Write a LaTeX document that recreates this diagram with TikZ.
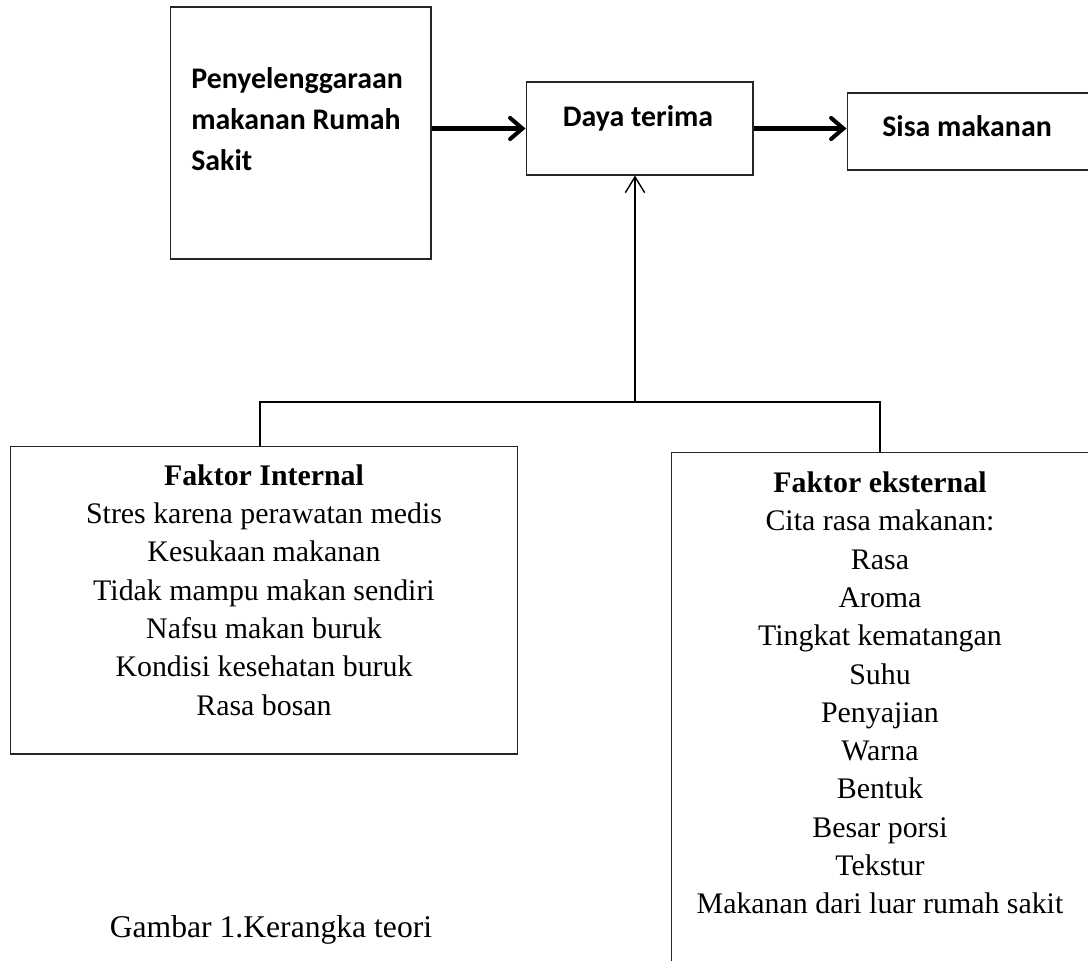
\documentclass[tikz,border=0pt]{standalone}
\usepackage{fontspec}
\setmainfont{Liberation Serif}
\newfontfamily\calibrifont{Carlito}
\usepackage{tikz}
\usetikzlibrary{arrows.meta, positioning, calc}

\begin{document}
\begin{tikzpicture}[x=0.02cm, y=-0.02cm,
  box/.style={draw=black!85, line width=0.6pt, rectangle, inner sep=0pt},
  headtext/.style={font=\calibrifont\bfseries\fontsize{17}{23.2}\selectfont, inner sep=0pt},
  listtext/.style={font=\fontsize{17}{21.8}\selectfont, align=center, inner sep=0pt},
  fatarrow/.style={line width=2.3pt, -{Straight Barb[length=7pt, width=12pt, line cap=round]}},
  thinarrow/.style={line width=0.8pt, -{Straight Barb[length=9pt, width=11pt]}},
  link/.style={line width=0.8pt}]

\useasboundingbox (0,0) rectangle (1088,960);
\clip (0,0) rectangle (1088,960);

% ===== top row =====
\node[box, minimum width=5.22cm, minimum height=5.04cm] (rs) at (300.5,133) {};
\node[headtext, anchor=west, align=left] (rstext) at (191,119)
  {Penyelenggaraan\\makanan Rumah\\Sakit};

\node[box, minimum width=4.54cm, minimum height=1.86cm] (daya) at (639.5,128.5) {};
\node[headtext] (dayatext) at (638,118) {Daya terima};

\node[box, minimum width=4.86cm, minimum height=1.54cm] (sisa) at (968.5,131.5) {};
\node[headtext] (sisatext) at (967,126) {Sisa makanan};

\draw[fatarrow] (rs.east |- daya.west) -- (daya.west);
\draw[fatarrow] (daya.east) -- (sisa.west |- daya.east);

% ===== faktor boxes =====
\node[box, minimum width=10.16cm, minimum height=6.16cm] (intern) at (264,600) {};
\node[listtext] (interntext) at (264,590) {%
\textbf{Faktor Internal}\\
Stres karena perawatan medis\\
Kesukaan makanan\\
Tidak mampu makan sendiri\\
Nafsu makan buruk\\
Kondisi kesehatan buruk\\
Rasa bosan};

\node[box, minimum width=8.36cm, minimum height=10.46cm] (ekstern) at (880,713.5) {};
\node[listtext] (eksterntext) at (880,693) {%
\textbf{Faktor eksternal}\\
Cita rasa makanan:\\
Rasa\\
Aroma\\
Tingkat kematangan\\
Suhu\\
Penyajian\\
Warna\\
Bentuk\\
Besar porsi\\
Tekstur\\
Makanan dari luar rumah sakit};

% joining lines
\coordinate (jl) at (260,402);
\coordinate (jm) at (635,402);
\coordinate (jr) at (880,402);
\draw[link] (jl |- intern.north) -- (jl) -- (jr) -- (jr |- ekstern.north);
\draw[thinarrow] (jm) -- (jm |- daya.south);

% caption
\node[listtext, font=\fontsize{18}{22}\selectfont, anchor=base] (caption) at (271,937) {Gambar 1.Kerangka teori};

\end{tikzpicture}
\end{document}
